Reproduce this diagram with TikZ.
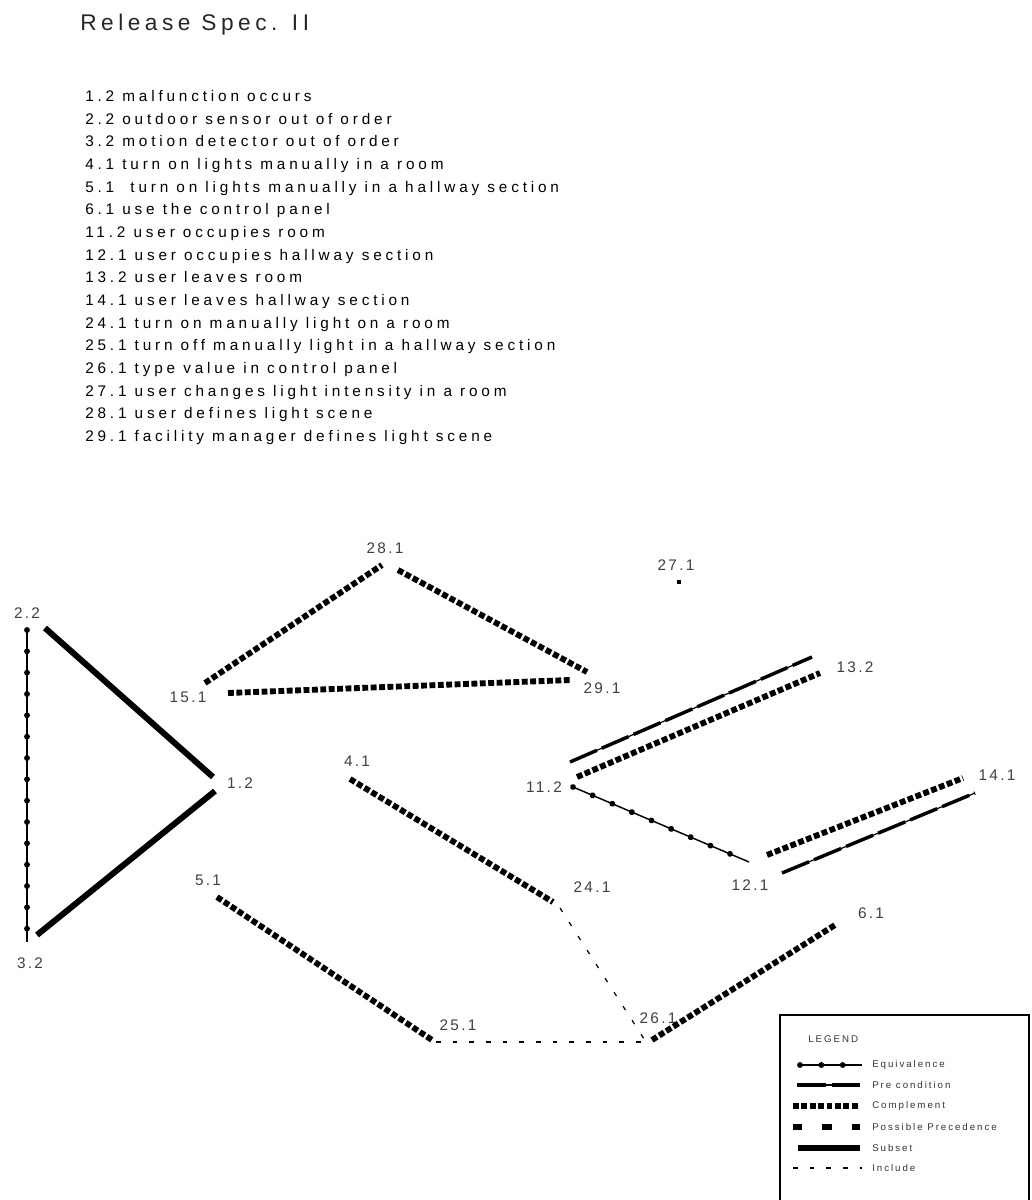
\documentclass[tikz,border=0pt]{standalone}
\usepackage{fontspec}
\setmainfont{Liberation Sans}
\newfontfamily\spacedfont[LetterSpace=25]{Liberation Sans}
\newfontfamily\labelfont[LetterSpace=15]{Liberation Sans}
\newfontfamily\titlefont[LetterSpace=20]{Liberation Sans}
\newfontfamily\legendfont[LetterSpace=20]{Liberation Sans}
\usetikzlibrary{calc, decorations.markings}

\begin{document}
\begin{tikzpicture}[
    x=0.75pt, y=-0.75pt,
    lbl/.style={font=\labelfont\fontsize{11.5}{13}\selectfont, text=black!75, inner sep=0pt},
    legtxt/.style={font=\legendfont\fontsize{7.3}{8}\selectfont, text=black!80, inner sep=0pt, anchor=west},
    equiv/.style={line width=1.1pt, postaction={decorate, decoration={markings, mark=between positions 0 and 1 step 16pt with {\fill (0,0) circle (2.2pt);}}}},
    precond/.style={line width=0.9pt, postaction={draw, line width=2.6pt, dash pattern=on 22pt off 4pt}},
    compl/.style={line width=4.4pt, dash pattern=on 4.4pt off 1.9pt},
    possprec/.style={line width=4.5pt, dash pattern=on 7pt off 15pt},
    subset/.style={line width=4.5pt},
    incl/.style={line width=0.9pt, dash pattern=on 3.5pt off 9pt}
]
\path[use as bounding box, fill=white] (0,0) rectangle (1032,1200);

% title and list of events
\node[font=\titlefont\fontsize{17}{20}\selectfont, text=black!85, inner sep=0pt, anchor=base west] (title) at (80,30) {Release Spec. II};
\node[font=\spacedfont\fontsize{11.5}{17}\selectfont, inner sep=0pt, align=left, anchor=north west] (spec) at (85,90) {1.2 malfunction occurs\\
2.2 outdoor sensor out of order\\
3.2 motion detector out of order\\
4.1 turn on lights manually in a room\\
5.1\ \ turn on lights manually in a hallway section\\
6.1 use the control panel\\
11.2 user occupies room\\
12.1 user occupies hallway section\\
13.2 user leaves room\\
14.1 user leaves hallway section\\
24.1 turn on manually light on a room\\
25.1 turn off manually light in a hallway section\\
26.1 type value in control panel\\
27.1 user changes light intensity in a room\\
28.1 user defines light scene\\
29.1 facility manager defines light scene};

% events
\node[lbl] (e22) at (27,613) {2.2};
\node[lbl] (e32) at (30,963) {3.2};
\node[lbl] (e12) at (240,783) {1.2};
\node[lbl] (e151) at (188,697) {15.1};
\node[lbl] (e281) at (385,548) {28.1};
\node[lbl] (e271) at (676,565) {27.1};
\node[lbl] (e291) at (602,688) {29.1};
\node[lbl] (e41) at (357,761) {4.1};
\node[lbl] (e112) at (544,787) {11.2};
\node[lbl] (e132) at (855,667) {13.2};
\node[lbl] (e141) at (997,775) {14.1};
\node[lbl] (e121) at (750,885) {12.1};
\node[lbl] (e241) at (592,887) {24.1};
\node[lbl] (e51) at (208,880) {5.1};
\node[lbl] (e61) at (871,913) {6.1};
\node[lbl] (e261) at (658,1018) {26.1};
\node[lbl] (e251) at (458,1025) {25.1};

% relations
\draw[equiv] ($(e22)+(0,17)$) -- ($(e32)+(-3,-21)$);
\draw[subset] ($(e22)+(18,15)$) -- ($(e12)+(-27,-6)$);
\draw[subset] ($(e32)+(7,-28)$) -- ($(e12)+(-25,8)$);
\draw[compl] ($(e151)+(17,-14)$) -- ($(e281)+(-3,17)$);
\draw[compl] ($(e281)+(13,22)$) -- ($(e291)+(-15,-16)$);
\draw[compl] ($(e151)+(40,-4)$) -- ($(e291)+(-32,-8)$);
\fill ($(e271)+(1,15)$) rectangle ++(4,4);
\draw[precond] ($(e112)+(26,-25)$) -- ($(e132)+(-43,-10)$);
\draw[compl] ($(e112)+(33,-10)$) -- ($(e132)+(-35,6)$);
\draw[equiv] ($(e112)+(29,0)$) -- ($(e121)+(-1,-23)$);
\draw[compl] ($(e121)+(17,-30)$) -- ($(e141)+(-34,3)$);
\draw[precond] ($(e121)+(32,-12)$) -- ($(e141)+(-22,18)$);
\draw[compl] ($(e41)+(-7,18)$) -- ($(e241)+(-39,15)$);
\draw[incl] ($(e241)+(-32,21)$) -- ($(e261)+(-12,24)$);
\draw[compl] ($(e51)+(9,17)$) -- ($(e251)+(-26,15)$);
\draw[incl] ($(e251)+(-22,17)$) -- ($(e261)+(-12,24)$);
\draw[compl] ($(e261)+(-6,22)$) -- ($(e61)+(-36,12)$);

% legend
\draw[line width=1.1pt] (780,1015) rectangle (1029,1210);
\node[legtxt] (leg) at (808,1039) {LEGEND};
\node[legtxt] (lequiv) at (872,1065) {Equivalence};
\node[legtxt] (lpre) at (872,1085) {Pre condition};
\node[legtxt] (lcomp) at (872,1106) {Complement};
\node[legtxt] (lposs) at (872,1127) {Possible Precedence};
\node[legtxt] (lsub) at (872,1148) {Subset};
\node[legtxt] (linc) at (872,1168) {Include};
\draw[equiv] ($(lequiv.west)+(-72,0)$) -- ($(lequiv.west)+(-10,0)$);
\draw[precond] ($(lpre.west)+(-75,0)$) -- ($(lpre.west)+(-12,0)$);
\draw[compl] ($(lcomp.west)+(-79,0)$) -- ($(lcomp.west)+(-12,0)$);
\draw[possprec] ($(lposs.west)+(-79,0)$) -- ($(lposs.west)+(-12,0)$);
\draw[subset] ($(lsub.west)+(-74,0)$) -- ($(lsub.west)+(-12,0)$);
\draw[incl] ($(linc.west)+(-79,0)$) -- ($(linc.west)+(-10,0)$);
\end{tikzpicture}
\end{document}
